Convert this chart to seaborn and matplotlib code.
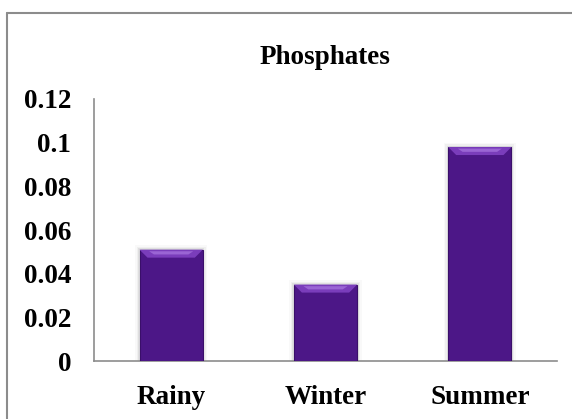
import matplotlib
matplotlib.use("Agg")
import matplotlib.pyplot as plt
import seaborn as sns
import pandas as pd
from matplotlib.patches import Polygon, Rectangle
from matplotlib.lines import Line2D

seasons = ["Rainy", "Winter", "Summer"]
phosphates = [0.051, 0.035, 0.098]
yticks = [0, 0.02, 0.04, 0.06, 0.08, 0.1, 0.12]
ytick_labels = ["0", "0.02", "0.04", "0.06", "0.08", "0.1", "0.12"]
title = "Phosphates"

sns.set_style("white")
plt.rcParams["font.family"] = ["Liberation Serif", "DejaVu Serif"]
plt.rcParams["text.color"] = "black"

W, H = 572, 419
fig = plt.figure(figsize=(W / 100, H / 100), dpi=100)
ax = fig.add_axes([94 / W, 1 - 361 / H, (557 - 94) / W, (361 - 99) / H])

df = pd.DataFrame({"season": seasons, "value": phosphates})
sns.barplot(data=df, x="season", y="value", ax=ax, color="#4c1787",
            width=0.41, saturation=1, edgecolor="#3a0f6a", linewidth=0.8, zorder=3)

ax.set_ylim(0, 0.12)
ax.set_yticks(yticks)
ax.set_yticklabels(ytick_labels)
ax.set_xlabel("")
ax.set_ylabel("")
ax.tick_params(axis="both", length=0, labelsize=19.5, labelcolor="black")
ax.tick_params(axis="y", pad=16.5)
ax.tick_params(axis="x", pad=17)
for lab in ax.get_xticklabels() + ax.get_yticklabels():
    lab.set_fontweight("bold")

for s in ["top", "right"]:
    ax.spines[s].set_visible(False)
for s in ["left", "bottom"]:
    ax.spines[s].set_color("#8c8c8c")
    ax.spines[s].set_linewidth(1.2)

# bevel highlight and shadow derived from each bar patch
fig.canvas.draw()
px_per_y = ax.transData.transform((0, 1))[1] - ax.transData.transform((0, 0))[1]
px_per_x = ax.transData.transform((1, 0))[0] - ax.transData.transform((0, 0))[0]
bev_h = 8 / px_per_y
bev_w = 8 / px_per_x
for p in ax.patches:
    x0, w, h = p.get_x(), p.get_width(), p.get_height()
    for k, a in enumerate([0.10, 0.06, 0.03]):
        off = (k + 1) * 1.5 / px_per_x
        ax.add_patch(Rectangle((x0 - off, 0), w + 2 * off, h + off * px_per_x / px_per_y,
                               facecolor="#555555", alpha=a, edgecolor="none", zorder=2))
    top = Polygon([(x0, h), (x0 + w, h), (x0 + w - bev_w, h - bev_h), (x0 + bev_w, h - bev_h)],
                  closed=True, facecolor="#7a3dbb", edgecolor="none", zorder=4)
    ax.add_patch(top)
    light = Polygon([(x0 + bev_w * 1.2, h - bev_h * 0.2), (x0 + w - bev_w * 1.2, h - bev_h * 0.2),
                     (x0 + w - bev_w * 1.8, h - bev_h * 0.6), (x0 + bev_w * 1.8, h - bev_h * 0.6)],
                    closed=True, facecolor="#9a65d4", edgecolor="none", zorder=4)
    ax.add_patch(light)

fig.text(0.5 * (94 + 557) / W, 1 - 57 / H, title, ha="center", va="center",
         fontsize=19.5, fontweight="bold", color="black")

fig.add_artist(Line2D([7 / W, 7 / W], [0, 1 - 13.5 / H], transform=fig.transFigure,
                      color="#8c8c8c", linewidth=1.5))
fig.add_artist(Line2D([7 / W, 1], [1 - 13.5 / H, 1 - 13.5 / H], transform=fig.transFigure,
                      color="#8c8c8c", linewidth=1.5))

fig.savefig("out.png", dpi=100)
